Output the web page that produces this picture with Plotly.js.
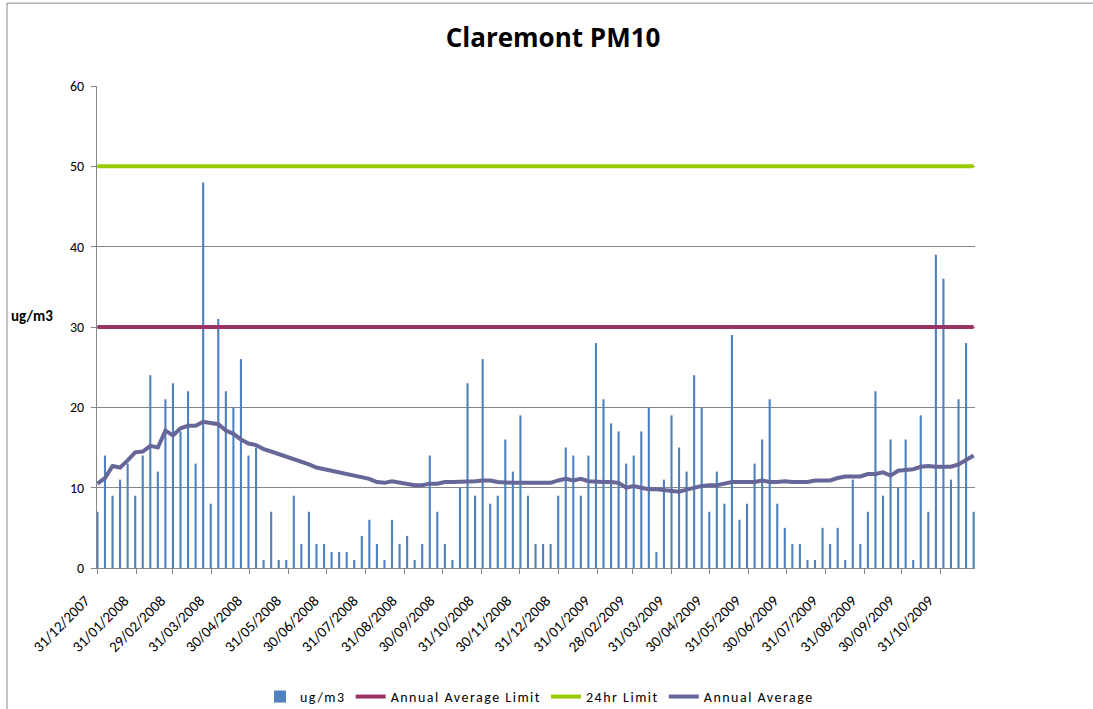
<!DOCTYPE html>
<html>
<head>
<meta charset="utf-8">
<script src="https://cdn.plot.ly/plotly-3.0.1.min.js"></script>
<style>
  html, body { margin: 0; padding: 0; background: #fff; }
  #chart { width: 1093px; height: 709px; }
  .legendtext { letter-spacing: 1.5px; }
</style>
</head>
<body>
<div id="chart"></div>
<script>
// sampling dates (one-in-six-day schedule)
var sampleDates = [
  "2007-12-31","2008-01-06","2008-01-12","2008-01-18","2008-01-24","2008-01-30",
  "2008-02-05","2008-02-11","2008-02-17","2008-02-23","2008-02-29",
  "2008-03-06","2008-03-12","2008-03-18","2008-03-24","2008-03-30",
  "2008-04-05","2008-04-11","2008-04-17","2008-04-23","2008-04-29",
  "2008-05-05","2008-05-11","2008-05-17","2008-05-23","2008-05-29",
  "2008-06-04","2008-06-10","2008-06-16","2008-06-22","2008-06-28",
  "2008-07-04","2008-07-10","2008-07-16","2008-07-22","2008-07-28",
  "2008-08-03","2008-08-09","2008-08-15","2008-08-21","2008-08-27",
  "2008-09-02","2008-09-08","2008-09-14","2008-09-20","2008-09-26",
  "2008-10-02","2008-10-08","2008-10-14","2008-10-20","2008-10-26",
  "2008-11-01","2008-11-07","2008-11-13","2008-11-19","2008-11-25",
  "2008-12-01","2008-12-07","2008-12-13","2008-12-19","2008-12-25","2008-12-31",
  "2009-01-06","2009-01-12","2009-01-18","2009-01-24","2009-01-30",
  "2009-02-05","2009-02-11","2009-02-17","2009-02-23",
  "2009-03-01","2009-03-07","2009-03-13","2009-03-19","2009-03-25","2009-03-31",
  "2009-04-06","2009-04-12","2009-04-18","2009-04-24","2009-04-30",
  "2009-05-06","2009-05-12","2009-05-18","2009-05-24","2009-05-30",
  "2009-06-05","2009-06-11","2009-06-17","2009-06-23","2009-06-29",
  "2009-07-05","2009-07-11","2009-07-17","2009-07-23","2009-07-29",
  "2009-08-04","2009-08-10","2009-08-16","2009-08-22","2009-08-28",
  "2009-09-03","2009-09-09","2009-09-15","2009-09-21","2009-09-27",
  "2009-10-03","2009-10-09","2009-10-15","2009-10-21","2009-10-27",
  "2009-11-02","2009-11-08","2009-11-14","2009-11-20","2009-11-26"
]

// daily PM10 (ug/m3)
var pm10 = [
  7,14,9,11,13,9,14,24,12,21,23,17,22,13,48,8,31,22,20,26,14,15,1,7,1,1,
  9,3,7,3,3,2,2,2,1,4,6,3,1,6,3,4,1,3,14,7,3,1,10,23,9,
  26,8,9,16,12,19,9,3,3,3,9,15,14,9,14,28,21,18,17,13,14,17,20,2,11,
  19,15,12,24,20,7,12,8,29,6,8,13,16,21,8,5,3,3,1,1,5,3,5,1,11,
  3,7,22,9,16,10,16,1,19,7,39,36,11,21,28,7
]

// rolling annual average
var annualAvg = [
  10.5,11.2,12.7,12.5,13.4,14.4,14.5,15.2,15.0,17.1,16.5,17.4,17.7,17.7,18.2,18.1,17.9,17.1,16.7,16.0,15.5,15.3,14.8,14.5,14.2,13.9,
  13.5,13.2,12.9,12.5,12.3,12.1,11.9,11.7,11.5,11.3,11.1,10.7,10.6,10.8,10.6,10.5,10.3,10.3,10.5,10.5,10.7,10.7,10.7,10.7,10.8,
  10.9,10.9,10.7,10.6,10.6,10.6,10.6,10.6,10.6,10.6,10.9,11.1,10.9,11.1,10.8,10.7,10.7,10.7,10.6,10.0,10.2,10.0,9.8,9.8,9.7,
  9.6,9.5,9.75,10.0,10.2,10.3,10.3,10.5,10.7,10.7,10.7,10.7,10.9,10.7,10.7,10.8,10.7,10.7,10.7,10.9,10.9,10.9,11.2,11.4,11.4,
  11.4,11.7,11.7,11.9,11.5,12.1,12.2,12.3,12.6,12.7,12.6,12.6,12.6,12.9,13.5,14.0
]

var annualLimit = 30
var dailyLimit = 50

// month-end ticks as shown on the axis
var tickDates = [
  "2007-12-31","2008-01-31","2008-02-29","2008-03-31","2008-04-30","2008-05-31",
  "2008-06-30","2008-07-31","2008-08-31","2008-09-30","2008-10-31","2008-11-30",
  "2008-12-31","2009-01-31","2009-02-28","2009-03-31","2009-04-30","2009-05-31",
  "2009-06-30","2009-07-31","2009-08-31","2009-09-30","2009-10-31"
]

var fontFam = "Calibri, Carlito, Lato, sans-serif"
var firstDate = sampleDates[0]
var lastDate = sampleDates[sampleDates.length - 1]

var traces = [
  {
    x: sampleDates, y: pm10, type: "bar", name: "ug/m3",
    marker: {color: "#4F81BD"}
  },
  {
    x: [firstDate, lastDate], y: [annualLimit, annualLimit], type: "scatter", mode: "lines",
    name: "Annual Average Limit", line: {color: "#993366", width: 4}
  },
  {
    x: [firstDate, lastDate], y: [dailyLimit, dailyLimit], type: "scatter", mode: "lines",
    name: "24hr Limit", line: {color: "#99CC00", width: 4}
  },
  {
    x: sampleDates, y: annualAvg, type: "scatter", mode: "lines",
    name: "Annual Average", line: {color: "#666699", width: 4}
  }
]

var layout = {
  width: 1093, height: 709,
  paper_bgcolor: "#fff", plot_bgcolor: "#fff",
  font: {family: fontFam, size: 14, color: "#000"},
  title: {text: "<b>Claremont PM10</b>", x: 0.506, xanchor: "center", y: 0.947, yanchor: "middle",
          font: {family: "Open Sans, Lato, sans-serif", size: 26, color: "#000"}},
  margin: {l: 97, r: 118, t: 86, b: 140.5},
  bargap: 0.72,
  showlegend: true,
  legend: {orientation: "h", x: 0.504, xanchor: "center", yref: "container", y: 0.017, yanchor: "middle",
           font: {family: fontFam, size: 14, color: "#000"}, traceorder: "normal"},
  xaxis: {
    type: "date", automargin: false,
    range: ["2007-12-30 16:00", "2009-11-27 02:00"],
    tickmode: "array", tickvals: tickDates, tickformat: "%d/%m/%Y",
    tickangle: -45, ticks: "outside", ticklen: 5, tickcolor: "#868686",
    ticklabelstandoff: 12, ticklabelshift: -12,
    showgrid: false, showline: true, linecolor: "#868686", linewidth: 1,
    tickfont: {family: fontFam, size: 15, color: "#000"}
  },
  yaxis: {
    automargin: false,
    range: [0, 60], tickmode: "array", tickvals: [0, 10, 20, 30, 40, 50, 60],
    ticks: "outside", ticklen: 5, tickcolor: "#868686", ticklabelstandoff: 4,
    showgrid: true, gridcolor: "#868686", gridwidth: 1,
    showline: true, linecolor: "#868686", linewidth: 1, zeroline: false,
    tickfont: {family: fontFam, size: 14, color: "#000"}
  },
  annotations: [
    {text: "<b>ug/m3</b>", xref: "paper", yref: "paper", x: -0.1, xanchor: "left",
     y: 0.522, yanchor: "middle", showarrow: false,
     font: {family: fontFam, size: 15, color: "#000"}}
  ],
  shapes: [
    {type: "line", xref: "paper", yref: "paper", x0: -0.1025, x1: 1.14, y0: 1.172, y1: 1.172,
     line: {color: "#868686", width: 1}},
    {type: "line", xref: "paper", yref: "paper", x0: -0.1025, x1: -0.1025, y0: 1.172, y1: -0.3,
     line: {color: "#868686", width: 1}}
  ]
}

Plotly.newPlot("chart", traces, layout, {displayModeBar: false, staticPlot: true})
</script>
</body>
</html>
